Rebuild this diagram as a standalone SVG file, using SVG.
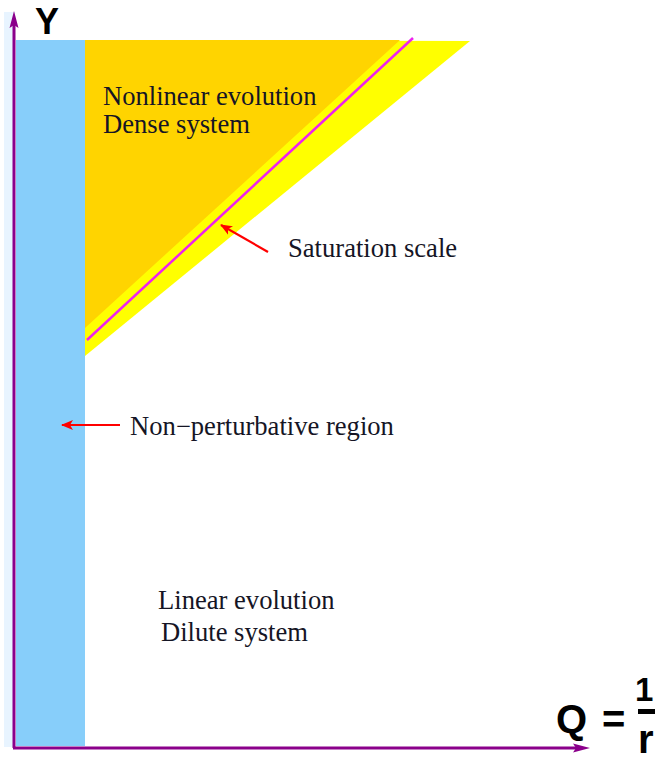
<svg xmlns="http://www.w3.org/2000/svg" width="657" height="763" viewBox="0 0 657 763">
  <defs>
    <marker id="redHead" viewBox="0 0 12 10" refX="11" refY="5" markerWidth="12" markerHeight="10" markerUnits="userSpaceOnUse" orient="auto">
      <path d="M0,0 L12,5 L0,10 L3,5 Z" fill="#ff0000"/>
    </marker>
  </defs>
  <style>
    .lbl { font-family: "Liberation Serif", "Times New Roman", serif; font-size: 26.6px; fill: #151525; }
    .ax { font-family: "Liberation Sans", Arial, sans-serif; font-weight: bold; fill: #000; }
    .axis { stroke: #8b008b; stroke-width: 3; fill: none; }
    .ptr { stroke: #ff0000; stroke-width: 2.2; fill: none; marker-end: url(#redHead); }
  </style>
  <rect width="657" height="763" fill="#ffffff"/>

  <g id="background-strip">
    <rect x="4" y="12" width="11" height="735" fill="#e8f4ff"/>
  </g>

  <g id="nonperturbative-region">
    <rect x="16" y="40" width="69" height="706" fill="#87cefa"/>
  </g>

  <g id="saturation-band">
    <polygon points="85,40 470,41 85,356" fill="#ffff00"/>
  </g>

  <g id="dense-region">
    <polygon points="85,40 400,40 85,328" fill="#ffd400"/>
  </g>

  <g id="saturation-line">
    <line x1="87" y1="340" x2="413" y2="38" stroke="#ee22ee" stroke-width="2.5"/>
  </g>

  <g id="axes">
    <line class="axis" x1="14" y1="748" x2="14" y2="24"/>
    <polygon points="14,11 9.5,28 14,25 18.5,28" fill="#8b008b"/>
    <line class="axis" x1="13" y1="748" x2="578" y2="748"/>
    <polygon points="590,748 573,743.5 576,748 573,752.5" fill="#8b008b"/>
  </g>

  <g id="connectors">
    <line class="ptr" x1="268" y1="252" x2="221" y2="225"/>
    <line class="ptr" x1="120" y1="425" x2="62" y2="425"/>
  </g>

  <g id="labels">
    <text class="lbl" x="103" y="105">Nonlinear evolution</text>
    <text class="lbl" x="103" y="133">Dense system</text>
    <text class="lbl" x="288" y="257">Saturation scale</text>
    <text class="lbl" x="130" y="435">Non−perturbative region</text>
    <text class="lbl" x="158" y="609">Linear evolution</text>
    <text class="lbl" x="161" y="641">Dilute system</text>
  </g>

  <g id="axis-labels">
    <text class="ax" x="35" y="34" font-size="36">Y</text>
    <text class="ax" x="556" y="733" font-size="40">Q</text>
    <text class="ax" x="602" y="733" font-size="40">=</text>
    <text class="ax" x="635" y="701" font-size="33">1</text>
    <rect x="638" y="709" width="17" height="5" fill="#000"/>
    <text class="ax" x="638" y="753" font-size="40">r</text>
  </g>
</svg>
